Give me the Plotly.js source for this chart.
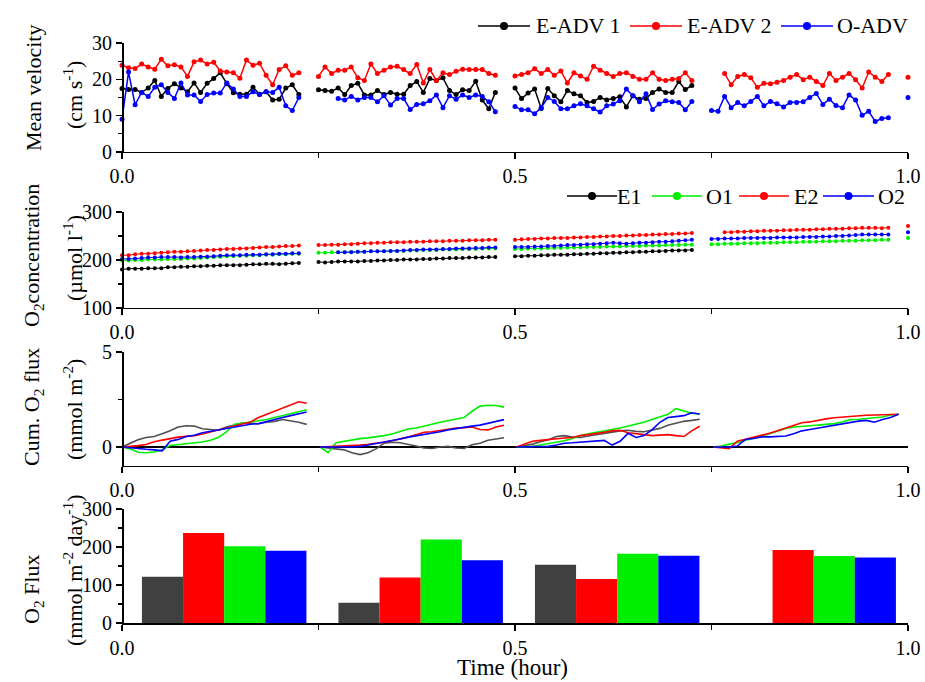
<!DOCTYPE html>
<html><head><meta charset="utf-8">
<script src="https://cdn.plot.ly/plotly-3.0.1.min.js"></script>
<style>body{margin:0;background:#fff}#c{width:925px;height:682px}</style>
</head><body><div id="c"></div>
<script>
// ---------- data ----------
const SAMPLE_STEP = 1/120; // 30-s bins (hours)

// Panel 1: mean velocity (cm s-1)
const velE1Starts = [0, 0.25, 0.5];
const velE1 = [
 [17.5,17.2,17.2,16.4,17.6,19.7,15.3,17.5,18.8,17.6,16.6,19.0,16.4,18.9,20.2,21.8,18.8,16.3,15.9,15.9,17.8,15.9,16.6,14.3,14.5,17.6,18.5,15.8],
 [17.1,16.9,16.7,17.6,15.8,18.3,18.9,15.7,15.7,16.9,15.8,16.4,15.9,15.9,18.3,19.4,16.4,20.2,19.7,20.4,16.9,15.8,17.1,16.9,19.5,14.3,11.9,16.4],
 [17.6,14.7,16.2,17.3,12.0,17.5,15.5,13.8,16.9,16.0,15.5,13.6,13.9,15.0,14.3,14.7,15.2,12.4,15.5,14.5,14.7,16.4,17.3,16.4,16.4,19.4,17.2,18.3]
];
const velE2Starts = [0, 0.25, 0.5, 0.7667, 1.0];
const velE2 = [
 [23.9,23.2,23.0,24.2,23.4,22.8,25.5,23.7,24.0,23.4,20.8,24.8,25.3,24.2,24.7,22.3,22.0,21.8,20.3,25.3,23.9,24.4,21.1,18.5,22.7,23.7,21.1,21.8],
 [20.8,23.4,21.6,22.5,22.5,23.4,20.4,19.7,24.2,21.6,22.5,23.4,23.6,22.7,21.6,24.1,19.0,22.7,19.7,21.8,21.3,22.2,22.8,22.7,22.7,22.7,21.6,21.1],
 [20.9,21.3,21.8,22.9,21.6,22.7,21.1,22.3,19.0,21.8,20.9,20.0,23.6,22.5,21.6,20.8,21.6,21.8,20.8,20.0,20.0,21.8,20.0,19.7,20.0,20.2,21.8,19.7],
 [21.6,18.5,20.8,21.3,20.4,17.8,18.9,18.8,19.2,19.7,20.6,21.3,19.9,20.6,19.4,18.3,21.6,19.7,20.6,21.6,19.9,17.6,22.0,20.6,19.4,21.3],
 [20.6]
];
const velOStarts = [0, 0.275, 0.5, 0.75, 1.0];
const velO = [
 [9.0,22.0,13.0,16.4,15.3,17.8,18.5,16.4,14.7,19.0,15.7,15.7,13.9,15.8,16.2,16.2,19.0,17.3,15.3,15.3,16.6,15.8,16.6,16.4,17.8,12.7,11.4,15.0],
 [14.7,14.3,15.3,14.3,15.0,15.0,13.8,15.5,12.9,14.7,14.7,11.7,13.1,13.3,14.1,15.7,12.2,15.5,14.5,15.7,15.0,15.7,15.3,13.8,11.1],
 [12.5,11.6,11.6,10.5,12.2,15.0,13.9,11.9,11.9,12.7,13.3,12.7,11.9,11.0,12.7,13.2,14.1,17.3,15.5,13.8,16.0,11.7,13.2,14.1,13.8,13.6,11.6,13.9],
 [11.4,11.2,15.3,12.2,13.6,12.7,13.9,15.3,12.7,13.9,13.3,12.4,13.6,13.6,13.8,15.0,16.1,13.1,14.5,12.8,12.2,15.7,14.3,10.1,11.2,8.4,9.2,9.4],
 [15.0]
];

// Panel 2: O2 concentration (umol l-1)
const oxE1Starts = [0, 0.25, 0.5];
const oxE1 = [
 [180,182,182,182,183,183,183,185,185,186,186,187,187,188,188,189,189,189,189,190,191,191,192,192,191,192,193,194],
 [196,195,196,197,197,197,197,198,198,199,199,200,200,201,201,201,202,202,203,203,204,204,204,205,205,205,206,206],
 [208,208,209,209,210,210,211,211,211,212,212,213,213,214,214,215,215,216,216,217,217,218,218,219,220,220,220,221]
];
const oxO1Starts = [0, 0.25, 0.5, 0.75, 1.0];
const oxO1 = [
 [199,199,200,200,201,201,201,202,202,202,203,203,204,205,206,207,208,208,209,209,210,210,211,211,212,212,213,213],
 [215,215,216,216,216,217,217,217,218,218,218,219,219,219,220,220,221,221,221,222,222,222,223,223,223,224,224,224],
 [223,223,224,224,224,225,225,225,226,226,226,227,227,227,228,228,228,229,229,229,230,230,230,231,231,231,232,232],
 [233,233,234,234,234,235,235,235,236,236,236,237,237,237,238,238,238,239,239,239,240,240,240,241,241,241,242,242],
 [246]
];
const oxE2Starts = [0, 0.25, 0.5, 0.7667, 1.0];
const oxE2 = [
 [210,210,212,213,213,214,215,216,217,217,218,219,220,221,221,222,223,223,224,224,225,226,227,227,228,229,229,230],
 [231,231,232,232,233,233,234,235,235,236,236,237,237,237,238,238,238,239,239,239,240,240,240,241,241,241,242,242],
 [242,243,244,244,245,245,246,246,246,247,247,248,248,249,249,250,250,251,251,252,252,253,253,254,254,255,255,256],
 [258,258,259,259,260,260,261,261,261,262,262,263,263,263,264,264,265,265,265,266,266,267,267,267,266,267],
 [271]
];
const oxO2Starts = [0, 0.275, 0.5, 0.75, 1.0];
const oxO2 = [
 [202,202,203,204,205,205,206,206,206,205,206,206,207,207,208,209,210,210,210,211,211,211,212,212,213,213,214,214],
 [216,216,216,217,217,218,218,218,219,219,220,221,221,222,222,222,223,223,224,224,224,225,225,226,226],
 [227,227,227,228,228,229,229,230,231,231,232,233,233,234,235,236,235,234,235,236,236,237,238,238,239,240,241,242],
 [244,244,245,245,245,246,246,246,246,246,247,247,247,247,248,248,248,249,249,250,250,251,252,253,253,253,253,253],
 [258]
];

// Panel 3: cumulative O2 flux (mmol m-2); each deployment: [start, end] hours, 24 samples
const cumStart = [0, 0.252, 0.502, 0.752];
const cumEnd   = [0.235, 0.486, 0.735, 0.988];
const cumE1 = [
 [0,0.2,0.38,0.5,0.55,0.7,0.85,1.05,1.12,1.1,0.96,0.92,0.88,1.05,1.15,1.26,1.25,1.22,1.3,1.35,1.45,1.38,1.3,1.19],
 [0,-0.05,-0.09,-0.15,-0.3,-0.4,-0.3,-0.1,0.2,0.25,0.22,0.15,0.05,-0.05,-0.08,0.0,0.03,-0.05,-0.08,0.12,0.2,0.35,0.4,0.49],
 [0,0.08,0.15,0.28,0.38,0.55,0.6,0.52,0.5,0.58,0.65,0.7,0.8,0.85,0.88,0.82,0.8,0.9,0.98,1.15,1.25,1.35,1.4,1.46],
 null
];
const cumO1 = [
 [0,-0.1,-0.28,-0.3,-0.26,-0.15,0.08,0.12,0.18,0.2,0.26,0.35,0.5,0.8,1.2,1.25,1.3,1.38,1.45,1.55,1.62,1.75,1.84,1.96],
 [0,-0.3,0.22,0.3,0.38,0.44,0.48,0.53,0.6,0.68,0.8,0.95,1.0,1.12,1.2,1.3,1.38,1.45,1.55,1.88,2.15,2.2,2.18,2.1],
 [0,0.0,0.03,0.1,0.17,0.25,0.33,0.45,0.6,0.7,0.77,0.82,0.92,1.0,1.1,1.18,1.3,1.45,1.6,1.72,2.02,1.88,1.78,1.72],
 [0,0.05,0.15,0.22,0.35,0.44,0.55,0.7,0.82,0.98,1.05,1.1,1.12,1.15,1.2,1.23,1.32,1.44,1.46,1.49,1.53,1.58,1.68,1.72]
];
const cumE2 = [
 [0,0.03,0.07,0.13,0.28,0.36,0.44,0.52,0.56,0.6,0.68,0.78,0.9,1.0,1.08,1.2,1.32,1.55,1.72,1.88,2.02,2.2,2.38,2.3],
 [0,0.02,0.03,0.03,0.06,0.1,0.14,0.18,0.25,0.33,0.42,0.52,0.65,0.78,0.8,0.86,0.93,1.0,1.02,1.05,0.92,0.9,1.05,1.14],
 [0,0.15,0.3,0.35,0.4,0.42,0.47,0.5,0.6,0.65,0.7,0.78,0.85,0.88,0.75,0.68,0.65,0.6,0.62,0.65,0.6,0.55,0.85,1.09],
 [0,-0.05,-0.09,0.3,0.4,0.49,0.6,0.72,0.85,1.0,1.15,1.28,1.32,1.42,1.48,1.54,1.58,1.6,1.63,1.67,1.68,1.7,1.72,1.72]
];
const cumO2 = [
 [0,-0.05,-0.1,-0.12,-0.15,-0.2,0.3,0.4,0.55,0.62,0.75,0.82,0.9,0.97,1.05,1.14,1.2,1.23,1.35,1.43,1.55,1.65,1.75,1.84],
 [0,0,-0.02,-0.03,0.0,0.03,0.1,0.17,0.25,0.33,0.42,0.52,0.58,0.66,0.73,0.8,0.9,0.98,1.03,1.1,1.15,1.25,1.35,1.44],
 [0,0,0,0.02,0.03,0.1,0.2,0.22,0.25,0.28,0.32,0.35,0.1,0.3,0.72,0.5,0.6,0.9,1.3,1.55,1.6,1.65,1.8,1.74],
 [0,0,0,0.05,0.39,0.45,0.53,0.53,0.55,0.58,0.7,0.85,0.92,1.0,1.08,1.14,1.22,1.32,1.36,1.4,1.3,1.45,1.55,1.72]
];

// Panel 4: O2 flux (mmol m-2 day-1), one group per deployment
const fluxTimes = [0.13, 0.38, 0.63, 0.88];
const fluxE1 = [122, 53, 153, null];
const fluxE2 = [237, 120, 116, 192];
const fluxO1 = [202, 220, 182, 176];
const fluxO2 = [190, 165, 177, 172];

// legend labels
const legendTop = ['E-ADV 1', 'E-ADV 2', 'O-ADV'];
const legendO2 = ['E1', 'O1', 'E2', 'O2'];

// ---------- helpers ----------
function stepSeries(starts, segs, step) {
  const x = [], y = [];
  segs.forEach((seg, k) => {
    seg.forEach((v, i) => { x.push(starts[k] + i * step); y.push(v); });
    x.push(null); y.push(null);
  });
  return {x, y};
}
function spanSeries(starts, ends, segs) {
  const x = [], y = [];
  segs.forEach((seg, k) => {
    if (!seg) return;
    const n = seg.length, dt = (ends[k] - starts[k]) / (n - 1);
    seg.forEach((v, i) => { x.push(starts[k] + i * dt); y.push(v); });
    x.push(null); y.push(null);
  });
  return {x, y};
}

const FONT = 'Liberation Serif';
const BLACK = '#000000', RED = '#FF0000', GREEN = '#00EE00', BLUE = '#0000FF', GREY = '#404040';

const traces = [];
function vel(starts, segs, color) {
  const d = stepSeries(starts, segs, SAMPLE_STEP);
  traces.push({x: d.x, y: d.y, type: 'scatter', mode: 'lines+markers', xaxis: 'x', yaxis: 'y',
    line: {color, width: 1.5}, marker: {color, size: 5}, cliponaxis: false, showlegend: false});
}
vel(velE1Starts, velE1, BLACK);
vel(velE2Starts, velE2, RED);
vel(velOStarts, velO, BLUE);

function ox(starts, segs, color) {
  const d = stepSeries(starts, segs, SAMPLE_STEP);
  traces.push({x: d.x, y: d.y, type: 'scatter', mode: 'lines+markers', xaxis: 'x2', yaxis: 'y2',
    line: {color, width: 1}, marker: {color, size: 4}, cliponaxis: false, showlegend: false});
}
ox(oxE1Starts, oxE1, BLACK);
ox(oxO1Starts, oxO1, GREEN);
ox(oxE2Starts, oxE2, RED);
ox(oxO2Starts, oxO2, BLUE);

function cum(segs, color) {
  const d = spanSeries(cumStart, cumEnd, segs);
  traces.push({x: d.x, y: d.y, type: 'scatter', mode: 'lines', xaxis: 'x3', yaxis: 'y3',
    line: {color, width: 1.6}, showlegend: false, cliponaxis: false});
}
cum(cumE1, '#505050');
cum(cumO1, GREEN);
cum(cumE2, RED);
cum(cumO2, BLUE);

function bar(vals, color) {
  traces.push({x: fluxTimes, y: vals, type: 'bar', xaxis: 'x4', yaxis: 'y4', showlegend: false,
    marker: {color, line: {width: 0}}});
}
bar(fluxE1, GREY);
bar(fluxE2, RED);
bar(fluxO1, GREEN);
bar(fluxO2, BLUE);

// ---------- layout ----------
const TICKFONT = {family: FONT, size: 20, color: BLACK};
function xax(anchor) {
  return {anchor, range: [0, 1], tickmode: 'array', tickvals: [0, 0.5, 1], ticktext: ['0.0', '0.5', '1.0'],
    ticks: 'outside', ticklen: 6, tickwidth: 1.3, tickcolor: BLACK, showline: true, linecolor: BLACK, linewidth: 1.5,
    showgrid: false, zeroline: false, tickfont: TICKFONT,
    minor: {tickvals: [0.25, 0.75], ticks: 'outside', ticklen: 5, tickwidth: 1.2, tickcolor: BLACK}, fixedrange: true};
}
function yax(domain, range, major, minor) {
  return {domain, range, tickmode: 'array', tickvals: major, ticks: 'outside', ticklen: 6, tickwidth: 1.3,
    tickcolor: BLACK, showline: true, linecolor: BLACK, linewidth: 1.5, showgrid: false, zeroline: false,
    tickfont: TICKFONT, anchor: 'free', position: 0,
    minor: {tickvals: minor, ticks: 'outside', ticklen: 4, tickwidth: 1.2, tickcolor: BLACK}, fixedrange: true};
}
const layout = {
  width: 925, height: 682,
  margin: {l: 122, r: 17, t: 20, b: 59},
  paper_bgcolor: '#fff', plot_bgcolor: '#fff',
  font: {family: FONT, color: BLACK},
  showlegend: false,
  barmode: 'group', bargap: 0.163, bargroupgap: 0,
  xaxis: xax('y'), xaxis2: xax('y2'), xaxis3: xax('y3'), xaxis4: xax('y4'),
  yaxis: yax([0.7811, 0.9619], [0, 30], [0, 10, 20, 30], [5, 15, 25]),
  yaxis2: yax([0.5224, 0.6816], [100, 300], [100, 200, 300], [150, 250]),
  yaxis3: Object.assign(yax([0.2604, 0.4494], [-1, 5], [0, 5], [2.5]),
    {zeroline: true, zerolinecolor: BLACK, zerolinewidth: 2}),
  yaxis4: yax([0, 0.1891], [0, 300], [0, 100, 200, 300], [50, 150, 250]),
  annotations: [], shapes: []
};
const px2x = px => (px - 122) / 786;
const px2y = py => (623 - py) / 603;

function ytitle(text, xpx, ypx) {
  layout.annotations.push({text, xref: 'paper', yref: 'paper', x: px2x(xpx), y: px2y(ypx),
    xanchor: 'center', yanchor: 'middle', textangle: -90, showarrow: false,
    font: {family: FONT, size: 22, color: BLACK}});
}
ytitle('Mean velocity', 33, 88);
ytitle('(cm s<sup>-1</sup>)', 73, 95);
ytitle('O<sub>2</sub>concentration', 33, 256);
ytitle('(µmol l<sup>-1</sup>)', 73, 258);
ytitle('Cum. O<sub>2</sub> flux', 33, 407);
ytitle('(mmol m<sup>-2</sup>)', 73, 410);
ytitle('O<sub>2</sub> Flux', 33, 590);
ytitle('(mmol m<sup>-2</sup> day<sup>-1</sup>)', 73, 570);
layout.annotations.push({text: 'Time (hour)', xref: 'paper', yref: 'paper', x: px2x(512), y: px2y(667),
  xanchor: 'center', yanchor: 'middle', showarrow: false, borderpad: 0,
  font: {family: FONT, size: 23, color: BLACK}});

// hand-placed legends (line + dot symbol, label)
function legendItem(label, color, sx0, sx1, tx, ypx) {
  layout.shapes.push({type: 'line', xref: 'paper', yref: 'paper', x0: px2x(sx0), x1: px2x(sx1),
    y0: px2y(ypx), y1: px2y(ypx), line: {color, width: 1.5}});
  const cx = (sx0 + sx1) / 2, r = 4;
  layout.shapes.push({type: 'circle', xref: 'paper', yref: 'paper', x0: px2x(cx - r), x1: px2x(cx + r),
    y0: px2y(ypx + r), y1: px2y(ypx - r), fillcolor: color, line: {color, width: 0}});
  layout.annotations.push({text: label, xref: 'paper', yref: 'paper', x: px2x(tx), y: px2y(ypx),
    xanchor: 'left', yanchor: 'middle', showarrow: false, font: {family: FONT, size: 22, color: BLACK}});
}
const topColors = [BLACK, RED, BLUE];
const topSym = [[478, 530, 534], [630, 682, 685], [781, 833, 835]];
legendTop.forEach((l, i) => legendItem(l, topColors[i], topSym[i][0], topSym[i][1], topSym[i][2], 26));
const o2Colors = [BLACK, GREEN, RED, BLUE];
const o2Sym = [[567, 617, 615], [652, 702, 704], [739, 789, 792], [823, 874, 876]];
legendO2.forEach((l, i) => legendItem(l, o2Colors[i], o2Sym[i][0], o2Sym[i][1], o2Sym[i][2], 196));

Plotly.newPlot('c', traces, layout, {displayModeBar: false, staticPlot: true});
</script></body></html>
